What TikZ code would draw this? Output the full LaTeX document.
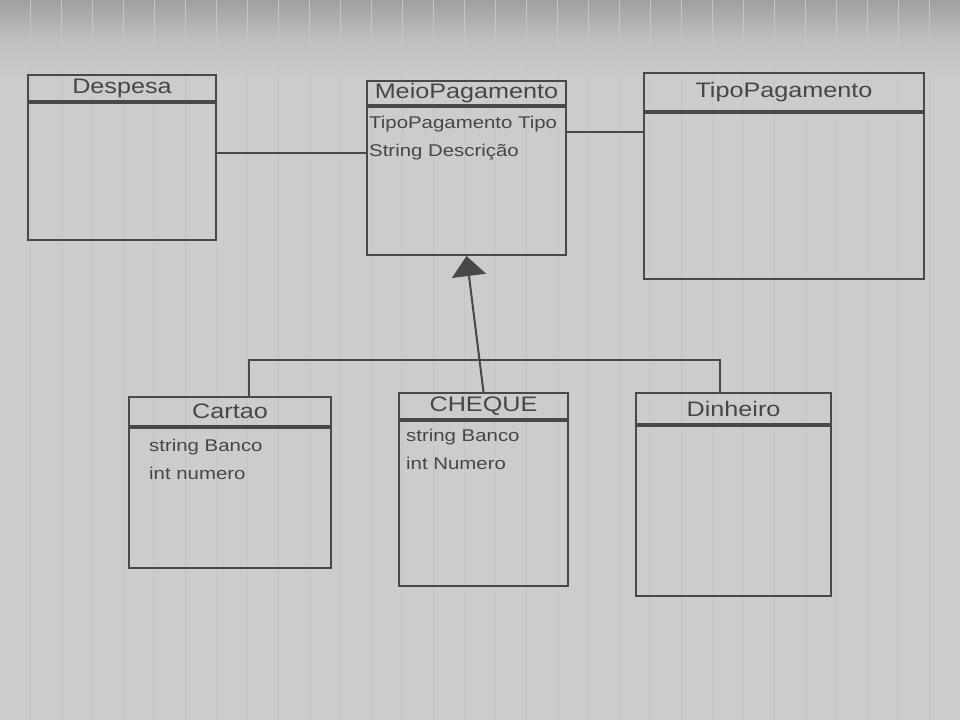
\documentclass[tikz,border=0pt]{standalone}
\usepackage{fontspec}
\usetikzlibrary{arrows.meta,calc}
\newfontfamily\handfont[FakeStretch=1.2]{Liberation Sans}
\newcommand{\titlefont}{\handfont\fontsize{21}{23}\selectfont}
\newcommand{\attrfont}{\handfont\fontsize{17}{28}\selectfont}
\definecolor{paperc}{RGB}{203,205,205}
\definecolor{paperdark}{RGB}{160,160,162}
\definecolor{rulec}{RGB}{195,198,201}
\definecolor{pencilc}{RGB}{72,72,72}
\definecolor{inkc}{RGB}{70,70,70}
\tikzset{
  pencil/.style={draw=pencilc, line width=2pt},
  classhead/.style={pencil, anchor=north west, inner sep=0pt, font=\titlefont, text=inkc},
  classbody/.style={pencil, anchor=north, inner sep=0pt},
  attrs/.style={anchor=north west, align=left, font=\attrfont, text=inkc, inner sep=0pt},
  link/.style={pencil, line cap=round},
  inherit/.style={link, -{Triangle[width=34pt,length=20pt,fill=pencilc]}},
}
\begin{document}
\begin{tikzpicture}[x=1pt,y=-1pt]
  % sheet of ruled paper
  \useasboundingbox (0,0) rectangle (960,720);
  \fill[paperc] (0,0) rectangle (960,720);
  \shade[top color=paperdark, bottom color=paperc, middle color=paperc!70!paperdark]
    (0,0) rectangle (960,80);
  \foreach \k in {0,...,31}
    \draw[rulec, line width=0.7pt] ({-1+31*\k},0) -- ({-1+31*\k},720);

  % classes: title compartment and body
  \node[classhead, minimum width=188pt, minimum height=26pt] (despesaT) at (27,74) {Despesa};
  \node[classbody, minimum width=188pt, minimum height=137pt] (despesaB) at (despesaT.south) {};

  \node[classhead, minimum width=199pt, minimum height=24pt] (meioT) at (366,80) {MeioPagamento};
  \node[classbody, minimum width=199pt, minimum height=148pt] (meioB) at (meioT.south) {};
  \node[attrs] (meioA) at ([xshift=3pt,yshift=-10pt]meioB.north west)
    {TipoPagamento Tipo\\String Descrição};

  \node[classhead, minimum width=280pt, minimum height=38pt] (tipoT) at (643,72) {TipoPagamento};
  \node[classbody, minimum width=280pt, minimum height=166pt] (tipoB) at (tipoT.south) {};

  \node[classhead, minimum width=202pt, minimum height=29pt] (cartaoT) at (128,396) {Cartao};
  \node[classbody, minimum width=202pt, minimum height=140pt] (cartaoB) at (cartaoT.south) {};
  \node[attrs] (cartaoA) at ([xshift=21pt,yshift=-12pt]cartaoB.north west)
    {string Banco\\int numero};

  \node[classhead, minimum width=169pt, minimum height=26pt] (chequeT) at (398,392) {CHEQUE};
  \node[classbody, minimum width=169pt, minimum height=165pt] (chequeB) at (chequeT.south) {};
  \node[attrs] (chequeA) at ([xshift=8pt,yshift=-9pt]chequeB.north west)
    {string Banco\\int Numero};

  \node[classhead, minimum width=195pt, minimum height=31pt] (dinheiroT) at (635,392) {Dinheiro};
  \node[classbody, minimum width=195pt, minimum height=170pt] (dinheiroB) at (dinheiroT.south) {};

  % associations
  \draw[link] (despesaB.11) -- (despesaB.11 -| meioB.west);
  \draw[link] (meioB.26) -- (meioB.26 -| tipoB.west);

  % generalisation towards MeioPagamento
  \coordinate (bus) at (0,360);
  \draw[inherit] (chequeT.north) -- (meioB.south);
  \draw[link] ([xshift=19pt]cartaoT.north) -- ([xshift=19pt]cartaoT.north |- bus)
    -- ([xshift=-14pt]dinheiroT.north |- bus) -- ([xshift=-14pt]dinheiroT.north);
\end{tikzpicture}
\end{document}
